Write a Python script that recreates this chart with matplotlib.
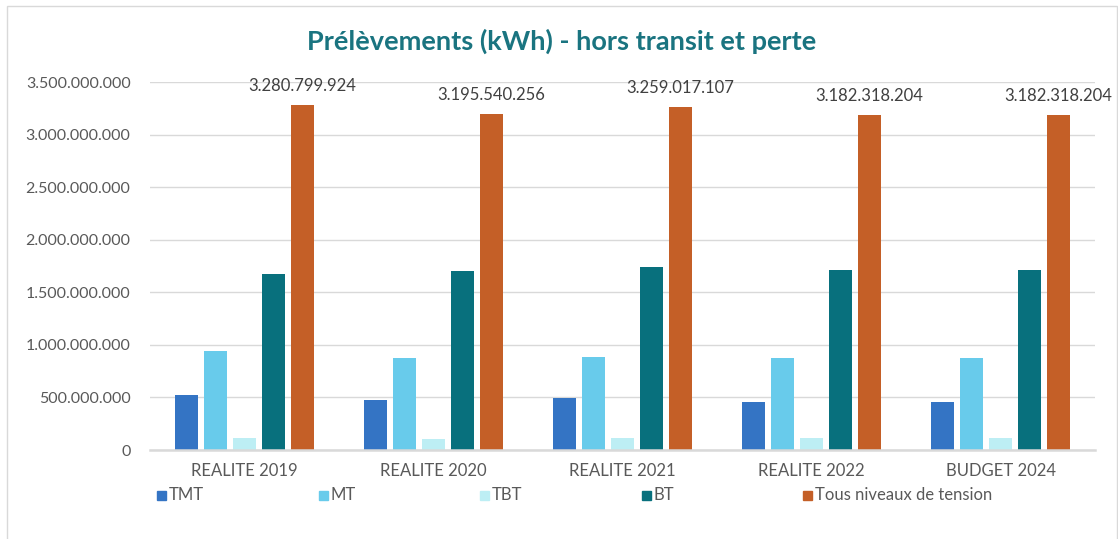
import numpy as np
import matplotlib
matplotlib.use("Agg")
import matplotlib.pyplot as plt
from matplotlib.patches import Rectangle
from matplotlib.ticker import FuncFormatter

plt.rcParams['font.family'] = ['Lato', 'DejaVu Sans']

categories = ['REALITE 2019', 'REALITE 2020', 'REALITE 2021', 'REALITE 2022', 'BUDGET 2024']
series_names = ['TMT', 'MT', 'TBT', 'BT', 'Tous niveaux de tension']
tmt = [520e6, 476e6, 495e6, 457e6, 457e6]
mt = [942e6, 876e6, 885e6, 876e6, 876e6]
tbt = [112e6, 105e6, 110e6, 110e6, 110e6]
bt = [1674e6, 1700e6, 1740e6, 1710e6, 1710e6]
total = [3280799924, 3195540256, 3259017107, 3182318204, 3182318204]
colors = ['#3474C4', '#68CBEB', '#BDEEF4', '#08707D', '#C45F27']


def fmt_dots(v, pos=None):
    return f"{int(round(v)):,}".replace(',', '.')


W, H = 1118, 539
fig = plt.figure(figsize=(W / 100, H / 100), dpi=100)
ax = fig.add_axes([150 / W, 1 - 450 / H, 945 / W, 368 / H])

x = np.arange(len(categories))
pitch = 29 / 189
width = 23 / 189
all_series = [tmt, mt, tbt, bt, total]
for i, (vals, c) in enumerate(zip(all_series, colors)):
    bars = ax.bar(x + (i - 2) * pitch, vals, width, color=c, zorder=3)
    if i == 4:
        for b, v in zip(bars, vals):
            ax.annotate(fmt_dots(v), (b.get_x() + b.get_width() / 2, v),
                        xytext=(0, 8), textcoords='offset points',
                        ha='center', va='bottom', fontsize=12,
                        color='#404040', clip_on=False)

ax.set_xlim(-0.5, len(categories) - 0.5)
ax.set_ylim(0, 3.5e9)
ax.set_yticks(np.arange(0, 3.5e9 + 1, 5e8))
ax.yaxis.set_major_formatter(FuncFormatter(fmt_dots))
ax.set_xticks(x)
ax.set_xticklabels(categories)
ax.tick_params(axis='both', length=0, labelsize=11.5, labelcolor='#595959')
ax.tick_params(axis='x', labelsize=12, pad=9)
ax.tick_params(axis='y', pad=14)
ax.grid(axis='y', color='#D9D9D9', linewidth=1, zorder=0)
for s in ['top', 'right', 'left']:
    ax.spines[s].set_visible(False)
ax.spines['bottom'].set_color('#D9D9D9')
ax.spines['bottom'].set_linewidth(1.8)
ax.spines['bottom'].set_zorder(4)

fig.text(562 / W, 1 - 41 / H, 'Prélèvements (kWh) - hors transit et perte',
         ha='center', va='center', fontsize=19.5, fontweight='bold', color='#1A7480')

# legend laid out like the original, one row of equal-width entries
for i, (name, c) in enumerate(zip(series_names, colors)):
    lx = 157 + i * 161.5
    fig.patches.append(Rectangle((lx / W, 1 - 500 / H), 9 / W, 9 / H,
                                 transform=fig.transFigure, color=c, figure=fig))
    fig.text((lx + 12) / W, 1 - 495 / H, name, ha='left', va='center',
             fontsize=12, color='#595959')

fig.patches.append(Rectangle((7 / W, -0.1), 1110 / W, 1.1 - 6 / H, transform=fig.transFigure,
                             fill=False, edgecolor='#D9D9D9', linewidth=1, figure=fig))

fig.savefig('out.png', dpi=100)
